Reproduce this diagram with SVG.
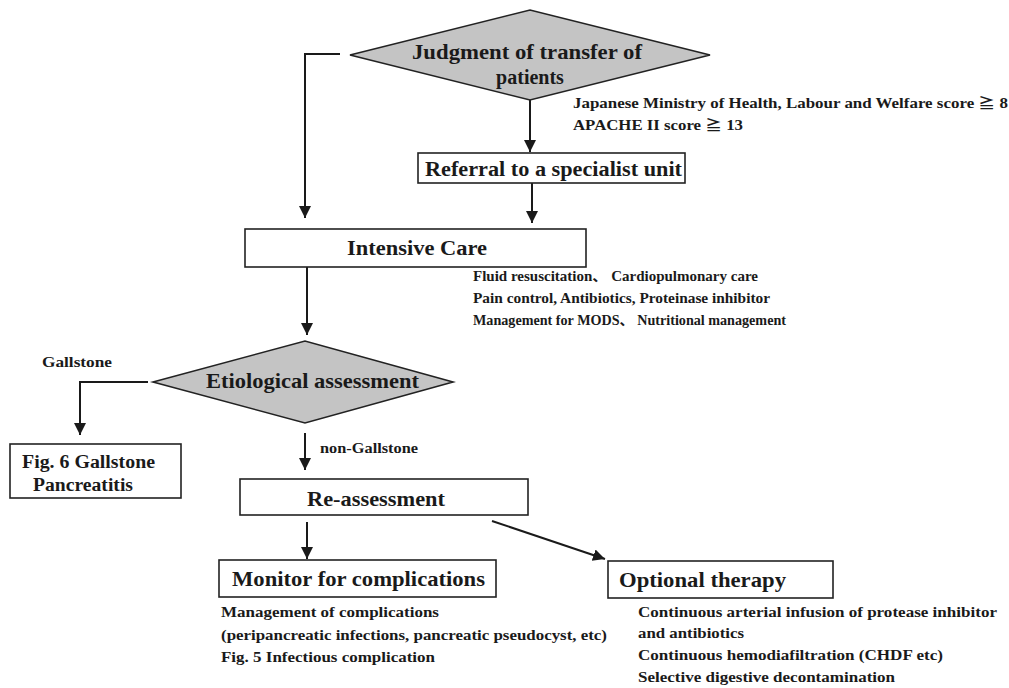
<svg xmlns="http://www.w3.org/2000/svg" width="1009" height="688" viewBox="0 0 1009 688">
  <style>
    text { font-family: 'Liberation Serif', 'Times New Roman', 'DejaVu Serif', serif; font-weight: 700; fill: #1a1a1a; }
    .cjk { font-family: 'Noto Sans CJK JP', 'DejaVu Sans', sans-serif; font-weight: 700; }
    .title { font-size: 20px; }
    .big { font-size: 22px; }
    .note { font-size: 14px; }
    .box { fill: #ffffff; stroke: #222222; stroke-width: 1.6; }
    .decision { fill: #c4c4c4; stroke: #222222; stroke-width: 1.6; }
    .link { fill: none; stroke: #1a1a1a; stroke-width: 2; }
  </style>
  <defs>
    <marker id="arrow" markerUnits="userSpaceOnUse" markerWidth="12" markerHeight="14" refX="12" refY="6" orient="auto">
      <path d="M0,0 L12,6 L0,12 z" fill="#1a1a1a"/>
    </marker>
  </defs>
  <rect width="1009" height="688" fill="#ffffff"/>

  <!-- connectors -->
  <g id="connectors">
    <polyline class="link" points="340,54 305,54 305,218" marker-end="url(#arrow)"/>
    <line class="link" x1="530" y1="100" x2="530" y2="152" marker-end="url(#arrow)"/>
    <line class="link" x1="532" y1="183" x2="532" y2="223" marker-end="url(#arrow)"/>
    <line class="link" x1="307" y1="267" x2="307" y2="335" marker-end="url(#arrow)"/>
    <polyline class="link" points="148,382 80,382 80,435" marker-end="url(#arrow)"/>
    <line class="link" x1="305" y1="433" x2="305" y2="470" marker-end="url(#arrow)"/>
    <line class="link" x1="307" y1="522" x2="307" y2="559" marker-end="url(#arrow)"/>
    <line class="link" x1="492" y1="521" x2="605" y2="559" marker-end="url(#arrow)"/>
  </g>

  <!-- decision: transfer -->
  <g id="judgment">
    <polygon class="decision" points="350,55 530,10 710,55 530,100"/>
    <text class="title" x="412" y="59" textLength="230" lengthAdjust="spacingAndGlyphs">Judgment of transfer of</text>
    <text class="title" x="530" y="84" text-anchor="middle">patients</text>
  </g>

  <g id="criteria">
    <text class="note" x="573" y="108" textLength="435" lengthAdjust="spacingAndGlyphs">Japanese Ministry of Health, Labour and Welfare score <tspan class="cjk">≧</tspan> 8</text>
    <text class="note" x="573" y="130" textLength="170" lengthAdjust="spacingAndGlyphs">APACHE II score <tspan class="cjk">≧</tspan> 13</text>
  </g>

  <g id="referral">
    <rect class="box" x="418" y="153" width="267" height="30"/>
    <text class="title" x="425" y="176" textLength="257" lengthAdjust="spacingAndGlyphs">Referral to a specialist unit</text>
  </g>

  <g id="intensive-care">
    <rect class="box" x="245" y="229" width="341" height="38"/>
    <text class="title" x="347" y="255" textLength="140" lengthAdjust="spacingAndGlyphs">Intensive Care</text>
  </g>

  <g id="care-items">
    <text class="note" x="473" y="281" textLength="285" lengthAdjust="spacingAndGlyphs">Fluid resuscitation<tspan class="cjk">、</tspan> Cardiopulmonary care</text>
    <text class="note" x="473" y="303" textLength="297" lengthAdjust="spacingAndGlyphs">Pain control, Antibiotics, Proteinase inhibitor</text>
    <text class="note" x="473" y="325" textLength="313" lengthAdjust="spacingAndGlyphs">Management for MODS<tspan class="cjk">、</tspan> Nutritional management</text>
  </g>

  <!-- decision: etiology -->
  <g id="etiology">
    <polygon class="decision" points="153,382 305,341 453,382 305,423"/>
    <text class="title" x="206" y="388" textLength="213" lengthAdjust="spacingAndGlyphs" style="font-size:21px">Etiological assessment</text>
  </g>

  <g id="branch-labels">
    <text class="note" x="42" y="367" textLength="70" lengthAdjust="spacingAndGlyphs">Gallstone</text>
    <text class="note" x="320" y="453" textLength="98" lengthAdjust="spacingAndGlyphs">non-Gallstone</text>
  </g>

  <g id="gallstone">
    <rect class="box" x="10" y="444" width="171" height="54"/>
    <text x="22" y="468" textLength="133" lengthAdjust="spacingAndGlyphs" style="font-size:18px">Fig. 6 Gallstone</text>
    <text x="33" y="491" textLength="100" lengthAdjust="spacingAndGlyphs" style="font-size:18px">Pancreatitis</text>
  </g>

  <g id="reassessment">
    <rect class="box" x="240" y="479" width="288" height="36"/>
    <text class="title" x="307" y="506" textLength="138" lengthAdjust="spacingAndGlyphs" style="font-size:21px">Re-assessment</text>
  </g>

  <g id="monitor">
    <rect class="box" x="219" y="560" width="277" height="37"/>
    <text class="big" x="232" y="586" textLength="253" lengthAdjust="spacingAndGlyphs">Monitor for complications</text>
  </g>

  <g id="monitor-items">
    <text class="note" x="221" y="617" textLength="218" lengthAdjust="spacingAndGlyphs">Management of complications</text>
    <text class="note" x="221" y="640" textLength="386" lengthAdjust="spacingAndGlyphs">(peripancreatic infections, pancreatic pseudocyst, etc)</text>
    <text class="note" x="221" y="662" textLength="214" lengthAdjust="spacingAndGlyphs">Fig. 5 Infectious complication</text>
  </g>

  <g id="optional">
    <rect class="box" x="608" y="561" width="225" height="37"/>
    <text class="big" x="619" y="587" textLength="167" lengthAdjust="spacingAndGlyphs">Optional therapy</text>
  </g>

  <g id="optional-items">
    <text class="note" x="638" y="617" textLength="359" lengthAdjust="spacingAndGlyphs">Continuous arterial infusion of protease inhibitor</text>
    <text class="note" x="638" y="638" textLength="106" lengthAdjust="spacingAndGlyphs">and antibiotics</text>
    <text class="note" x="638" y="660" textLength="305" lengthAdjust="spacingAndGlyphs">Continuous hemodiafiltration (CHDF etc)</text>
    <text class="note" x="638" y="682" textLength="257" lengthAdjust="spacingAndGlyphs">Selective digestive decontamination</text>
  </g>
</svg>
